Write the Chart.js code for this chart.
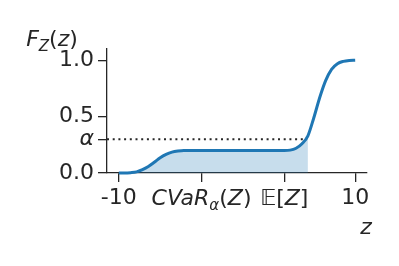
<!DOCTYPE html>
<html>
<head>
<meta charset="utf-8">
<script src="https://cdn.jsdelivr.net/npm/chart.js@4.4.1/dist/chart.umd.min.js"></script>
<style>
  html, body { margin: 0; padding: 0; background: #fff; }
  #wrap { width: 399px; height: 266px; }
</style>
</head>
<body>
<div id="wrap"><canvas id="cdfChart"></canvas></div>
<script>
// values
const zValues = [-10, -9.5, -9, -8.5, -8, -7.5, -7, -6.5, -6, -5.5, -5, -4.5, -4, -3, -2, -1, 0, 1, 2, 3, 4,
  4.5, 5, 5.5, 6, 6.5, 7, 7.5, 8, 8.5, 9, 9.5, 10];
const cdfValues = [0, 0, 0.003, 0.01, 0.03, 0.058, 0.095, 0.135, 0.165, 0.185, 0.195, 0.2, 0.2, 0.2, 0.2, 0.2, 0.2, 0.2, 0.2, 0.2, 0.2,
  0.203, 0.22, 0.26, 0.33, 0.49, 0.67, 0.82, 0.92, 0.97, 0.99, 0.998, 1.0];
const fillUntil = 6;
const alphaLevel = 0.3;
const alphaLineEnd = 5.7;
const yTickValues = [0, 0.3, 0.5, 1.0];
const yTickLabels = ['0.0', 'α', '0.5', '1.0'];
const xTickValues = [-10, -3, 4, 10];
const xTickLabels = ['-10', 'CVaR', 'E', '10'];

const ink = '#262626';
const blue = '#1f77b4';
const FONT = 'DejaVu Sans';
const SIZE = 22;

const curve = zValues.map((z, i) => ({ x: z, y: cdfValues[i] }));
const shaded = curve.filter(p => p.x <= fillUntil);

// draw a run of text pieces (normal / italic / subscript)
function drawPieces(ctx, pieces, cx, baseline) {
  let total = 0;
  pieces.forEach(p => {
    ctx.font = `${p.italic ? 'italic ' : ''}${p.size || SIZE}px "${FONT}"`;
    p.w = ctx.measureText(p.t).width;
    total += p.w;
  });
  let x = cx - total / 2;
  pieces.forEach(p => {
    ctx.font = `${p.italic ? 'italic ' : ''}${p.size || SIZE}px "${FONT}"`;
    ctx.fillText(p.t, x, baseline + (p.dy || 0));
    x += p.w;
  });
}

const mathLabels = {
  id: 'mathLabels',
  afterDraw(chart) {
    const ctx = chart.ctx;
    const xs = chart.scales.x;
    ctx.save();
    ctx.fillStyle = ink;
    ctx.textBaseline = 'alphabetic';
    ctx.textAlign = 'left';
    const base = 205;
    drawPieces(ctx, [
      { t: 'CVaR', italic: true },
      { t: 'α', italic: true, size: 15, dy: 5 },
      { t: '(', italic: false },
      { t: 'Z', italic: true },
      { t: ')', italic: false }
    ], xs.getPixelForValue(-3), base);
    drawPieces(ctx, [
      { t: '𝔼', italic: false },
      { t: '[', italic: false },
      { t: 'Z', italic: true },
      { t: ']', italic: false }
    ], xs.getPixelForValue(4), base);
    // axis labels
    drawPieces(ctx, [
      { t: 'F', italic: true },
      { t: 'Z', italic: true, size: 15, dy: 5 },
      { t: '(', italic: false },
      { t: 'z', italic: true },
      { t: ')', italic: false }
    ], 52, 46);
    drawPieces(ctx, [{ t: 'z', italic: true }], 366, 234);
    ctx.restore();
  }
};

new Chart(document.getElementById('cdfChart'), {
  type: 'line',
  data: {
    datasets: [
      {
        data: curve,
        borderColor: blue,
        borderWidth: 3,
        pointRadius: 0,
        cubicInterpolationMode: 'monotone',
        fill: false,
        clip: 4,
        order: 0
      },
      {
        data: [{ x: -11, y: alphaLevel }, { x: alphaLineEnd, y: alphaLevel }],
        borderColor: ink,
        borderWidth: 2,
        borderDash: [2, 3.7],
        pointRadius: 0,
        fill: false,
        order: 1
      },
      {
        data: shaded,
        borderWidth: 0,
        borderColor: 'rgba(0,0,0,0)',
        backgroundColor: 'rgba(31,119,180,0.25)',
        pointRadius: 0,
        cubicInterpolationMode: 'monotone',
        fill: 'origin',
        order: 2
      }
    ]
  },
  options: {
    responsive: true,
    maintainAspectRatio: false,
    animation: false,
    layout: { padding: { top: 49, right: 32, left: 0, bottom: 0 } },
    plugins: { legend: { display: false }, tooltip: { enabled: false } },
    scales: {
      x: {
        type: 'linear',
        min: -11,
        max: 11,
        afterBuildTicks: s => { s.ticks = xTickValues.map(v => ({ value: v })); },
        afterFit: s => { s.height = 266 - 173; },
        grid: { drawOnChartArea: false, drawTicks: true, tickLength: 9, color: ink, lineWidth: 1.3 },
        border: { color: ink, width: 1.3 },
        ticks: {
          color: ink,
          font: { family: FONT, size: SIZE },
          padding: 3,
          maxRotation: 0,
          autoSkip: false,
          callback: v => {
            const i = xTickValues.indexOf(v);
            return (i === 0 || i === 3) ? xTickLabels[i] : '';
          }
        }
      },
      y: {
        type: 'linear',
        min: 0,
        max: 1.1,
        afterBuildTicks: s => { s.ticks = yTickValues.map(v => ({ value: v })); },
        afterFit: s => { s.width = 107; },
        grid: { drawOnChartArea: false, drawTicks: true, tickLength: 9, color: ink, lineWidth: 1.3 },
        border: { color: ink, width: 1.3 },
        ticks: {
          color: ink,
          padding: 4,
          autoSkip: false,
          font: ctx => ({
            family: FONT,
            size: SIZE,
            style: ctx.tick && ctx.tick.value === alphaLevel ? 'italic' : 'normal'
          }),
          callback: v => yTickLabels[yTickValues.indexOf(v)]
        }
      }
    }
  },
  plugins: [mathLabels]
});
</script>
</body>
</html>
